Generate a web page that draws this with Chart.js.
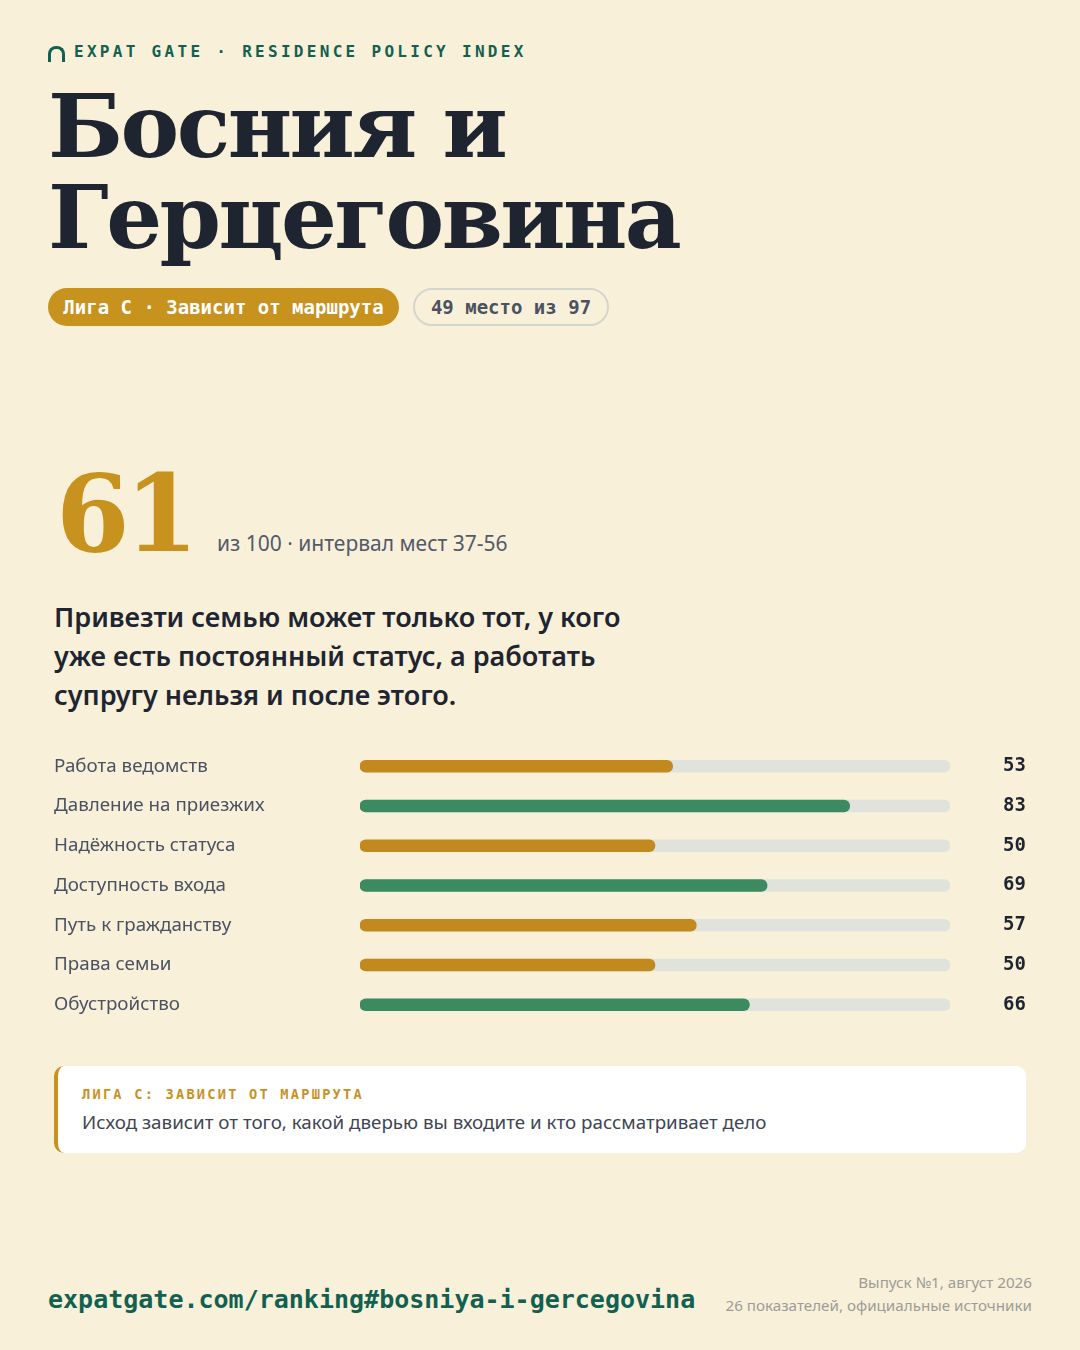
<!DOCTYPE html>
<html lang="ru">
<head>
<meta charset="utf-8">
<script src="https://cdn.jsdelivr.net/npm/chart.js@4"></script>
<style>
  html, body { margin: 0; padding: 0; }
  body { width: 1080px; height: 1350px; background: #f9f0da; position: relative; overflow: hidden; font-family: "Noto Sans", sans-serif; }
  .abs { position: absolute; }
  .brand { left: 48px; top: 42px; font-family: "DejaVu Sans Mono", monospace; font-weight: bold; font-size: 16px; letter-spacing: 3.3px; color: #12604f; white-space: nowrap; }
  .arch { display: inline-block; width: 11px; height: 13px; border: 3px solid #12604f; border-bottom: none; border-radius: 8px 8px 0 0; margin-right: 9px; vertical-align: -5px; }
  .title { left: 48px; margin: 0; font-family: "DejaVu Serif", serif; font-weight: bold; font-size: 88px; line-height: 91px; color: #1e2530; letter-spacing: -2.6px; white-space: nowrap; }
  .pill { top: 288px; height: 38px; line-height: 38px; border-radius: 19px; font-family: "DejaVu Sans Mono", monospace; font-weight: bold; font-size: 19px; white-space: nowrap; box-sizing: border-box; }
  .gold { left: 48px; width: 351px; background: #c8921f; color: #fff; text-align: center; }
  .plain { left: 413px; width: 196px; border: 2px solid #d3d6cc; line-height: 34px; color: #4a5262; text-align: center; }
  .score { left: 56px; top: 451px; font-family: "DejaVu Serif", serif; font-weight: bold; font-size: 106px; color: #c8921f; letter-spacing: -5px; }
  .scoresub { left: 217px; top: 529px; font-size: 21px; color: #525a68; }
  .lead { left: 54px; top: 597px; width: 600px; font-size: 27px; line-height: 39px; font-weight: 600; color: #1e2530; }
  #wrap { left: 54px; top: 735px; width: 972px; height: 301px; }
  .card { left: 54px; top: 1066px; width: 972px; height: 87px; background: #fff; border-radius: 10px; border-left: 4px solid #c8921f; box-sizing: border-box; }
  .cardlab { left: 82px; top: 1086px; font-family: "DejaVu Sans Mono", monospace; font-weight: bold; font-size: 13.7px; letter-spacing: 2.2px; color: #c8921f; }
  .cardtxt { left: 82px; top: 1109px; font-size: 18.8px; color: #3e4652; }
  .url { left: 48px; top: 1285px; font-family: "DejaVu Sans Mono", monospace; font-weight: bold; font-size: 25px; color: #12604f; }
  .meta { right: 48px; top: 1271px; text-align: right; font-size: 15.2px; line-height: 23px; color: #9c9c98; }
</style>
</head>
<body>
<div class="abs brand"><span class="arch"></span>EXPAT GATE · RESIDENCE POLICY INDEX</div>
<div class="abs title" style="top: 81px;">Босния и</div>
<div class="abs title" style="top: 172px;">Герцеговина</div>
<div class="abs pill gold">Лига C · Зависит от маршрута</div>
<div class="abs pill plain">49 место из 97</div>
<div class="abs score">61</div>
<div class="abs scoresub">из 100 · интервал мест 37-56</div>
<div class="abs lead">Привезти семью может только тот, у кого уже есть постоянный статус, а работать супругу нельзя и после этого.</div>
<div class="abs" id="wrap"><canvas id="myChart"></canvas></div>
<div class="abs card"></div>
<div class="abs cardlab">ЛИГА C: ЗАВИСИТ ОТ МАРШРУТА</div>
<div class="abs cardtxt">Исход зависит от того, какой дверью вы входите и кто рассматривает дело</div>
<div class="abs url">expatgate.com/ranking#bosniya-i-gercegovina</div>
<div class="abs meta">Выпуск №1, август 2026<br>26 показателей, официальные источники</div>

<script>
const categories = ['Работа ведомств', 'Давление на приезжих', 'Надёжность статуса', 'Доступность входа', 'Путь к гражданству', 'Права семьи', 'Обустройство'];
const scores = [53, 83, 50, 69, 57, 50, 66];
const trackMax = [100, 100, 100, 100, 100, 100, 100];

const GOLD = '#c2891e';
const GREEN = '#3c8a5f';

let ctx = document.querySelector('#myChart').getContext('2d');
let myChart = new Chart(ctx, {
    type: 'bar',
    data: {
        labels: categories,
        datasets: [{
            label: 'score',
            data: scores,
            backgroundColor: scores.map(v => v >= 60 ? GREEN : GOLD),
            borderRadius: 6,
            borderSkipped: false,
            barThickness: 12,
            grouped: false,
            order: 1
        }, {
            label: 'track',
            data: trackMax,
            backgroundColor: '#dfe3dc',
            borderRadius: 6,
            borderSkipped: false,
            barThickness: 12,
            grouped: false,
            order: 2
        }]
    },
    options: {
        indexAxis: 'y',
        responsive: true,
        maintainAspectRatio: false,
        animation: false,
        layout: { padding: 0 },
        plugins: {
            legend: { display: false },
            tooltip: { enabled: false }
        },
        scales: {
            x: {
                min: 0,
                max: 100,
                display: false
            },
            y: {
                position: 'left',
                grid: { display: false },
                border: { display: false },
                afterFit: axis => { axis.width = 306; },
                ticks: {
                    crossAlign: 'far',
                    padding: 0,
                    color: '#4a5262',
                    font: { family: 'Noto Sans', size: 18.8 }
                }
            },
            yValues: {
                type: 'category',
                labels: scores.map(String),
                position: 'right',
                grid: { display: false },
                border: { display: false },
                afterFit: axis => { axis.width = 76; },
                ticks: {
                    crossAlign: 'far',
                    padding: 0,
                    color: '#1e2530',
                    font: { family: 'DejaVu Sans Mono', size: 19, weight: 'bold' }
                }
            }
        }
    }
});
</script>
</body>
</html>
